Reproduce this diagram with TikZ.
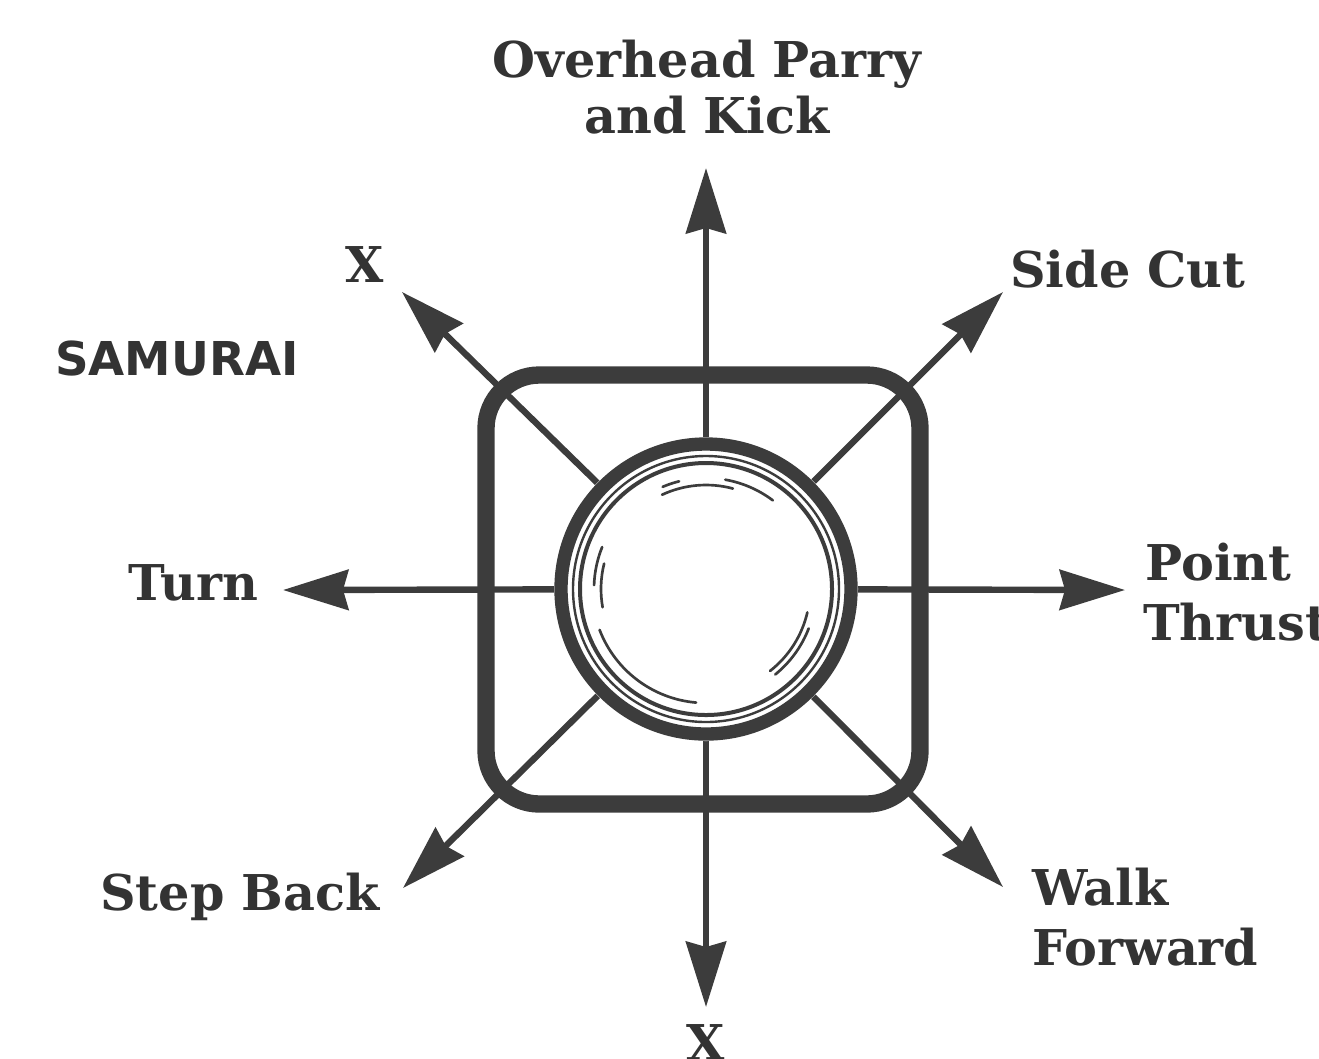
\documentclass[tikz,border=0pt]{standalone}
\usepackage{fontspec}
\setmainfont{DejaVu Serif}
\setsansfont{DejaVu Sans}
\usetikzlibrary{arrows.meta}
\definecolor{ink}{HTML}{3C3C3C}
\definecolor{txt}{HTML}{333333}
\tikzset{
  lbl/.style={inner sep=0pt, text=txt, font=\fontsize{37}{41}\selectfont\bfseries},
  samlbl/.style={inner sep=0pt, text=txt, font=\sffamily\fontsize{35}{39}\selectfont\bfseries},
  dirarrow/.style={draw=ink, line width=4.8pt, -{Stealth[length=49pt, width=30pt, inset=4pt]}, color=ink},
  hl/.style={draw=ink, line width=2pt, line cap=round}
}
\begin{document}
\begin{tikzpicture}[x=0.75pt, y=-0.75pt]
\useasboundingbox (0,0) rectangle (1319,1058);
\clip (0,0) rectangle (1319,1058);
% rounded square
\draw[ink, line width=13pt, rounded corners=40pt] (486,375) rectangle (920,804);
% joystick knob position
\node[circle, minimum size=226pt, inner sep=0pt] (knob) at (706,589) {};
% tips
\coordinate (tU) at (706,168);
\coordinate (tD) at (706,1007);
\coordinate (tL) at (283,590);
\coordinate (tR) at (1125,590);
\coordinate (tNW) at (402,292);
\coordinate (tNE) at (1003,292);
\coordinate (tSW) at (403,888);
\coordinate (tSE) at (1003,887);
% arrows
\draw[dirarrow] (knob.center) -- (tU);
\draw[dirarrow] (knob.center) -- (tD);
\draw[dirarrow] (knob.center) -- (tL);
\draw[dirarrow] (knob.center) -- (tR);
\draw[dirarrow] (knob.center) -- (tNW);
\draw[dirarrow] (knob.center) -- (tNE);
\draw[dirarrow] (knob.center) -- (tSW);
\draw[dirarrow] (knob.center) -- (tSE);
% knob
\fill[white] (knob.center) circle[radius=152];
\begin{scope}[shift={(knob.center)}, y=0.75pt]
  \draw[ink, line width=10pt] (0,0) circle[radius=145];
  \draw[ink, line width=1.8pt] (0,0) circle[radius=133];
  \draw[ink, line width=3pt] (0,0) circle[radius=126];
  % highlights
  \draw[hl] (115:104) arc[start angle=115, end angle=75, radius=104];
  \draw[hl] (113:111) arc[start angle=113, end angle=104, radius=111];
  \draw[hl] (80:111) arc[start angle=80, end angle=53, radius=111];
  \draw[hl] (158:112) arc[start angle=158, end angle=178, radius=112];
  \draw[hl] (166:105) arc[start angle=166, end angle=190, radius=105];
  \draw[hl] (201:114) arc[start angle=201, end angle=265, radius=114];
  \draw[hl] (308:104) arc[start angle=308, end angle=347, radius=104];
  \draw[hl] (309:110) arc[start angle=309, end angle=339, radius=110];
\end{scope}
% labels
\node[lbl, anchor=base] (lOver) at (707,77) {Overhead Parry};
\node[lbl, anchor=base] (lKick) at (707,133) {and Kick};
\node[lbl, anchor=base] (lXtop) at (365,282) {X};
\node[lbl, anchor=base west] (lSide) at (1010,287) {Side Cut};
\node[samlbl, anchor=base west] (lSam) at (55,375) {SAMURAI};
\node[lbl, anchor=base west] (lTurn) at (128,600) {Turn};
\node[lbl, anchor=base west] (lPoint) at (1145,580) {Point};
\node[lbl, anchor=base west] (lThrust) at (1143,640) {Thrust};
\node[lbl, anchor=base west] (lStep) at (100,910) {Step Back};
\node[lbl, anchor=base west] (lWalk) at (1032,905) {Walk};
\node[lbl, anchor=base west] (lFwd) at (1032,965) {Forward};
\node[lbl, anchor=base] (lXbot) at (706,1060) {X};
\end{tikzpicture}
\end{document}
